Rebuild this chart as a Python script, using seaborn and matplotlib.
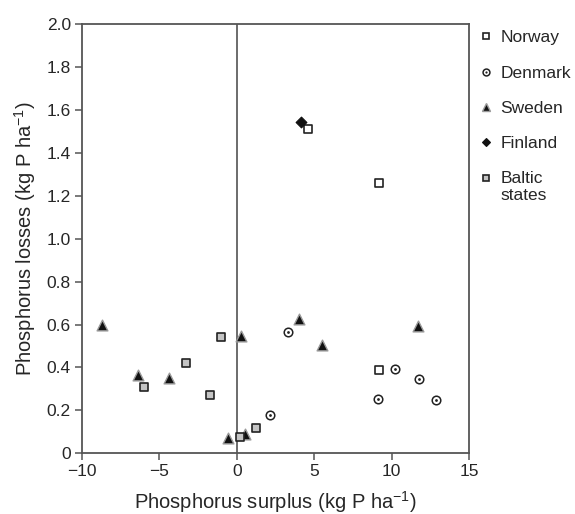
import matplotlib
matplotlib.use("Agg")
import matplotlib.pyplot as plt
from matplotlib.lines import Line2D
from matplotlib.legend_handler import HandlerTuple
from matplotlib.ticker import FuncFormatter
import pandas as pd
import seaborn as sns

# Phosphorus surplus (x) and losses (y), kg P per hectare, by country
norway_x = [4.6, 9.2, 9.2]
norway_y = [1.51, 1.26, 0.39]

denmark_x = [3.3, 2.15, 10.2, 11.75, 9.15, 12.85]
denmark_y = [0.565, 0.18, 0.395, 0.345, 0.255, 0.25]

sweden_x = [-8.7, -6.4, -4.4, -0.55, 0.3, 0.55, 4.0, 5.5, 11.7]
sweden_y = [0.60, 0.365, 0.35, 0.07, 0.545, 0.09, 0.625, 0.505, 0.595]

finland_x = [4.15]
finland_y = [1.545]

baltic_x = [-6.0, -3.25, -1.75, -1.0, 0.2, 1.25]
baltic_y = [0.31, 0.42, 0.27, 0.54, 0.075, 0.12]

x_ticks = [-10, -5, 0, 5, 10, 15]
y_ticks = [0, 0.2, 0.4, 0.6, 0.8, 1.0, 1.2, 1.4, 1.6, 1.8, 2.0]

sns.set_style("ticks")
plt.rcParams["font.family"] = ["Liberation Sans", "DejaVu Sans"]
plt.rcParams["mathtext.default"] = "regular"

frames = [
    pd.DataFrame({"surplus": norway_x, "losses": norway_y, "country": "Norway"}),
    pd.DataFrame({"surplus": denmark_x, "losses": denmark_y, "country": "Denmark"}),
    pd.DataFrame({"surplus": sweden_x, "losses": sweden_y, "country": "Sweden"}),
    pd.DataFrame({"surplus": finland_x, "losses": finland_y, "country": "Finland"}),
    pd.DataFrame({"surplus": baltic_x, "losses": baltic_y, "country": "Baltic states"}),
]
df = pd.concat(frames, ignore_index=True)

fig = plt.figure(figsize=(5.75, 5.14), dpi=100)
ax = fig.add_axes([0.1426, 0.1181, 0.8157 - 0.1426, 0.9533 - 0.1181])

spine_col = "#555555"
ax.axvline(0, color="#444444", lw=1.1, zorder=1)

styles = {
    "Norway": dict(marker="s", s=34, facecolor="white", edgecolor="#222222", linewidth=1.2),
    "Denmark": dict(marker="o", s=38, facecolor="white", edgecolor="#222222", linewidth=1.1),
    "Sweden": dict(marker="^", s=60, facecolor="#111111", edgecolor="#9a9a9a", linewidth=1.0),
    "Finland": dict(marker="D", s=30, facecolor="#111111", edgecolor="#111111", linewidth=0.8),
    "Baltic states": dict(marker="s", s=34, facecolor="#c4c4c4", edgecolor="#222222", linewidth=1.2),
}

for name, st in styles.items():
    sub = df[df["country"] == name]
    sns.scatterplot(data=sub, x="surplus", y="losses", ax=ax, legend=False,
                    zorder=3, clip_on=False, **st)
    if name == "Denmark":
        # centre dot of the Denmark marker
        sns.scatterplot(data=sub, x="surplus", y="losses", ax=ax, legend=False,
                        marker="o", s=4, color="#222222", linewidth=0, zorder=4)

ax.set_xlim(-10, 15)
ax.set_ylim(0, 2.0)
ax.set_xticks(x_ticks)
ax.set_yticks(y_ticks)
ax.yaxis.set_major_formatter(FuncFormatter(lambda v, p: "0" if v == 0 else f"{v:.1f}"))
ax.tick_params(axis="both", direction="out", length=5, width=1.1,
               color=spine_col, labelsize=12.5, pad=3)
for sp in ax.spines.values():
    sp.set_color(spine_col)
    sp.set_linewidth(1.3)

ax.set_xlabel("Phosphorus surplus (kg P ha$^{-1}$)", fontsize=14.5, labelpad=7)
ax.set_ylabel("Phosphorus losses (kg P ha$^{-1}$)", fontsize=14.5, labelpad=6)

def mk(name):
    st = styles[name]
    return Line2D([], [], linestyle="none", marker=st["marker"],
                  markersize=(st["s"] ** 0.5) * 0.8, markerfacecolor=st["facecolor"],
                  markeredgecolor=st["edgecolor"], markeredgewidth=st["linewidth"])

dk_dot = Line2D([], [], linestyle="none", marker="o", markersize=1.6,
                markerfacecolor="#222222", markeredgewidth=0)
handles = [mk("Norway"), (mk("Denmark"), dk_dot), mk("Sweden"), mk("Finland"), mk("Baltic states")]
labels = ["Norway", "Denmark", "Sweden", "Finland", "Baltic\nstates"]
leg = fig.legend(handles, labels, loc="upper left", bbox_to_anchor=(0.8296, 0.941),
                 frameon=False, fontsize=12.5, handlelength=1.0, handletextpad=0.35,
                 labelspacing=1.16, borderaxespad=0, borderpad=0,
                 handler_map={tuple: HandlerTuple(ndivide=1)})
leg.get_texts()[4].set_linespacing(1.1)
# align the Baltic marker with the first line of its two-line label
baltic_handle = leg.legend_handles[4]
baltic_handle.set_ydata([y + 6.5 for y in baltic_handle.get_ydata()])

fig.savefig("out.png", dpi=100)
